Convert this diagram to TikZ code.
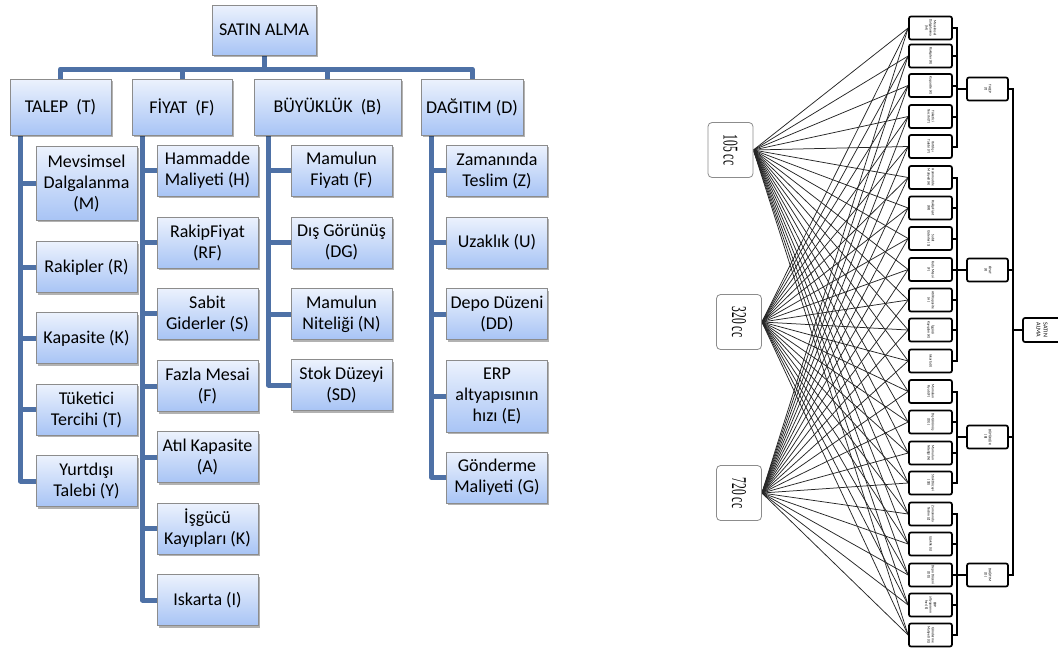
\documentclass[tikz,border=0pt]{standalone}
\usepackage{fontspec}
\usepackage{graphicx}
\setmainfont{Carlito}
\newfontfamily\ccfont{Liberation Serif}
\usetikzlibrary{shadows,backgrounds}
\definecolor{conncol}{RGB}{78,113,166}
\definecolor{boxtop}{RGB}{236,242,253}
\definecolor{boxbot}{RGB}{168,196,245}
\definecolor{boxline}{RGB}{140,140,140}
\newcommand\rtxt[1]{\rotatebox{-90}{\begin{tabular}{@{}c@{}}#1\end{tabular}}}
\tikzset{
  ob/.style={draw=boxline, line width=0.8pt, top color=boxtop, bottom color=boxbot,
    align=center, font=\fontsize{18}{21}\selectfont, inner sep=1pt,
    drop shadow={shadow xshift=1.5pt, shadow yshift=-2pt, opacity=0.3, fill=black}},
  cb/.style={ob, minimum width=101pt, minimum height=51pt},
  conn/.style={draw=conncol, line width=5pt, line join=round},
  sb/.style={draw=black, line width=1.7pt, rounded corners=2pt, fill=white,
    minimum width=43pt, minimum height=23pt, inner sep=0pt,
    font=\fontsize{3.6}{4.2}\selectfont},
  gb/.style={sb, minimum width=41pt},
  ccb/.style={draw=black!45, line width=0.8pt, rounded corners=4pt, fill=white,
    minimum width=45pt, minimum height=55pt, inner sep=0pt},
  br/.style={draw=black, line width=2pt},
  ccl/.style={draw=black!85, line width=0.75pt}
}
\begin{document}
\begin{tikzpicture}[x=1pt,y=1pt]
\useasboundingbox (0,0) rectangle (1058,-649);
\begin{pgfonlayer}{background}
\fill[white] (0,0) rectangle (1058,-649);
\end{pgfonlayer}

% ---------- left: tree ----------
\node[ob, minimum width=104pt, minimum height=50pt] (SA) at (264,-30) {SATIN ALMA};
\node[ob, minimum width=101pt, minimum height=56pt] (T) at (60.5,-107) {TALEP \ (T)};
\node[ob, minimum width=100pt, minimum height=56pt] (F) at (182,-107) {FİYAT \ (F)};
\node[ob, minimum width=147pt, minimum height=56pt] (B) at (327.5,-107) {BÜYÜKLÜK \ (B)};
\node[ob, minimum width=102pt, minimum height=56pt] (D) at (472,-107) {DAĞITIM (D)};
\coordinate (bus) at (264,-69);

\node[cb, minimum height=74pt] (tM) at (86.5,-183) {Mevsimsel\\Dalgalanma\\(M)};
\node[cb] (tR) at (86.5,-267) {Rakipler (R)};
\node[cb] (tK) at (86.5,-338) {Kapasite (K)};
\node[cb] (tT) at (86.5,-409.5) {Tüketici\\Tercihi (T)};
\node[cb] (tY) at (86.5,-481) {Yurtdışı\\Talebi (Y)};

\node[cb] (fH) at (207.5,-170.5) {Hammadde\\Maliyeti (H)};
\node[cb] (fRF) at (207.5,-242.5) {RakipFiyat\\(RF)};
\node[cb] (fS) at (207.5,-313.5) {Sabit\\Giderler (S)};
\node[cb] (fF) at (207.5,-386) {Fazla Mesai\\(F)};
\node[cb] (fA) at (207.5,-457) {Atıl Kapasite\\(A)};
\node[cb] (fK) at (207.5,-528.5) {İşgücü\\Kayıpları (K)};
\node[cb] (fI) at (207.5,-600) {Iskarta (I)};

\node[cb] (bF) at (341.5,-170.5) {Mamulun\\Fiyatı (F)};
\node[cb] (bDG) at (341.5,-242.5) {Dış Görünüş\\(DG)};
\node[cb] (bN) at (341.5,-314) {Mamulun\\Niteliği (N)};
\node[cb] (bSD) at (341.5,-385) {Stok Düzeyi\\(SD)};

\node[cb] (dZ) at (497,-170.5) {Zamanında\\Teslim (Z)};
\node[cb] (dU) at (497,-242.5) {Uzaklık (U)};
\node[cb] (dDD) at (497,-314) {Depo Düzeni\\(DD)};
\node[cb, minimum height=72pt] (dE) at (497,-396) {ERP\\altyapısının\\hızı (E)};
\node[cb] (dG) at (497,-477.5) {Gönderme\\Maliyeti (G)};

\begin{pgfonlayer}{background}
\draw[conn] (SA.south) -- (bus);
\foreach \p in {T,F,B,D} \draw[conn] (bus) -| (\p.north);
\foreach \c in {tM,tR,tK,tT,tY} \draw[conn] ([xshift=11pt]T.south west) |- (\c.west);
\foreach \c in {fH,fRF,fS,fF,fA,fK,fI} \draw[conn] ([xshift=11pt]F.south west) |- (\c.west);
\foreach \c in {bF,bDG,bN,bSD} \draw[conn] ([xshift=15pt]B.south west) |- (\c.west);
\foreach \c in {dZ,dU,dDD,dE,dG} \draw[conn] ([xshift=11pt]D.south west) |- (\c.west);
\end{pgfonlayer}

% ---------- right: network ----------
\node[ccb] (c1) at (730.5,-150) {\rotatebox{-90}{\scalebox{0.55}[1]{\fontsize{21}{24}\ccfont 105 cc}}};
\node[ccb] (c2) at (739,-322) {\rotatebox{-90}{\scalebox{0.55}[1]{\fontsize{21}{24}\ccfont 320 cc}}};
\node[ccb] (c3) at (739,-493) {\rotatebox{-90}{\scalebox{0.55}[1]{\fontsize{21}{24}\ccfont 720 cc}}};

\node[sb] (s1) at (930.5,-28) {\rtxt{Mevsimsel\\Dalgalanma\\(M)}};
\node[sb] (s2) at (930.5,-56) {\rtxt{Rakipler (R)}};
\node[sb] (s3) at (930.5,-85.5) {\rtxt{Kapasite (K)}};
\node[sb] (s4) at (930.5,-116.5) {\rtxt{Tüketici\\Tercihi (T)}};
\node[sb] (s5) at (930.5,-146.5) {\rtxt{Yurtdışı\\Talebi (Y)}};
\node[sb] (s6) at (930.5,-177.5) {\rtxt{Hammadde\\Maliyeti (H)}};
\node[sb] (s7) at (930.5,-208) {\rtxt{RakipFiyat\\(RF)}};
\node[sb] (s8) at (930.5,-238.5) {\rtxt{Sabit\\Giderler (S)}};
\node[sb] (s9) at (930.5,-269.5) {\rtxt{Fazla Mesai\\(F)}};
\node[sb] (s10) at (930.5,-300) {\rtxt{Atıl Kapasite\\(A)}};
\node[sb] (s11) at (930.5,-330) {\rtxt{İşgücü\\Kayıpları (K)}};
\node[sb] (s12) at (930.5,-361) {\rtxt{Iskarta (I)}};
\node[sb] (s13) at (930.5,-391.5) {\rtxt{Mamulun\\Fiyatı (F)}};
\node[sb] (s14) at (930.5,-422) {\rtxt{Dış Görünüş\\(DG)}};
\node[sb] (s15) at (930.5,-453) {\rtxt{Mamulun\\Niteliği (N)}};
\node[sb] (s16) at (930.5,-483) {\rtxt{Stok Düzeyi\\(SD)}};
\node[sb] (s17) at (930.5,-514) {\rtxt{Zamanında\\Teslim (Z)}};
\node[sb] (s18) at (930.5,-544) {\rtxt{Uzaklık (U)}};
\node[sb] (s19) at (930.5,-575) {\rtxt{Depo Düzeni\\(DD)}};
\node[sb] (s20) at (930.5,-605) {\rtxt{ERP\\altyapısının\\hızı (E)}};
\node[sb] (s21) at (930.5,-635) {\rtxt{Gönderme\\Maliyeti (G)}};

\node[gb] (g1) at (987.5,-89) {\rtxt{TALEP\\(T)}};
\node[gb] (g2) at (987.5,-270) {\rtxt{FİYAT\\(F)}};
\node[gb] (g3) at (987.5,-437) {\rtxt{BÜYÜKLÜK\\(B)}};
\node[gb] (g4) at (987.5,-575) {\rtxt{DAĞITIM\\(D)}};
\node[sb, minimum width=37pt, minimum height=24pt, font=\fontsize{6}{7}\selectfont] (SA2) at (1041.5,-330) {\rtxt{SATIN\\ALMA}};

\begin{pgfonlayer}{background}
\foreach \c in {c1,c2,c3}
  \foreach \s in {1,...,21}
    \draw[ccl] (\c.east) -- (s\s.west);
\foreach \s in {1,...,5} \draw[br] (s\s.east) -| ([xshift=-9pt]g1.west) -- (g1.west);
\foreach \s in {6,...,12} \draw[br] (s\s.east) -| ([xshift=-9pt]g2.west) -- (g2.west);
\foreach \s in {13,...,16} \draw[br] (s\s.east) -| ([xshift=-9pt]g3.west) -- (g3.west);
\foreach \s in {17,...,21} \draw[br] (s\s.east) -| ([xshift=-9pt]g4.west) -- (g4.west);
\foreach \g in {g1,g2,g3,g4} \draw[br] (\g.east) -| ([xshift=-9pt]SA2.west) -- (SA2.west);
\end{pgfonlayer}
\end{tikzpicture}
\end{document}
